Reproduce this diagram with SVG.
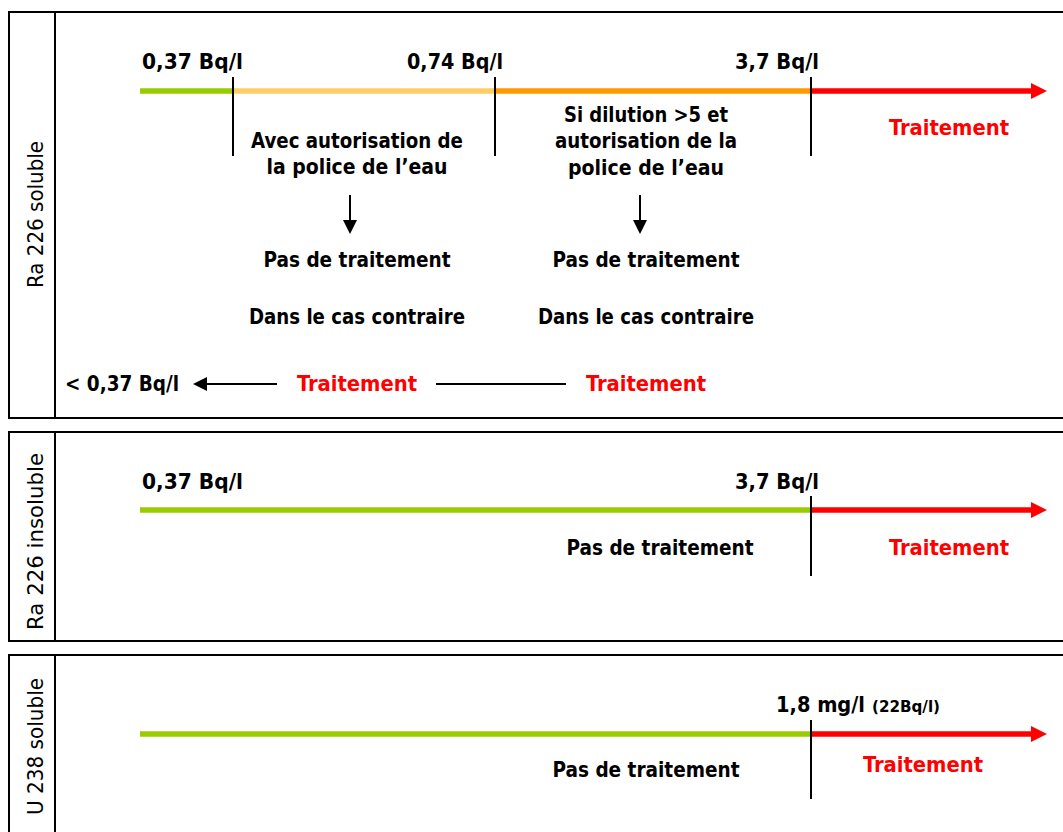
<svg xmlns="http://www.w3.org/2000/svg" width="1063" height="832" viewBox="0 0 1063 832">
<style>
  .frame{fill:none;stroke:#000;stroke-width:2}
  .div{stroke:#000;stroke-width:2}
  .tick{stroke:#000;stroke-width:2}
  .seg{stroke-width:5.5;fill:none}
  .g{stroke:#99CC00}
  .lo{stroke:#FFCC66}
  .o{stroke:#FF9900}
  .r{stroke:#FF0000}
  .t{font-family:"DejaVu Sans Condensed","DejaVu Sans",sans-serif;font-weight:bold;font-size:21px;fill:#000}
  .red{fill:#FF0000}
  .mid{text-anchor:middle}
  .lab{font-family:"DejaVu Sans",sans-serif;font-size:22px;fill:#000;text-anchor:middle}
  .small{font-family:"DejaVu Sans",sans-serif;font-weight:bold;font-size:16px;fill:#000}
  .arr{stroke:#000;stroke-width:2;fill:none}
</style>
<defs>
  <marker id="ra" markerUnits="userSpaceOnUse" markerWidth="16" markerHeight="16" refX="9" refY="8" orient="auto">
    <path d="M0,0 L16,8 L0,16 z" fill="#FF0000"/>
  </marker>
  <marker id="ba" markerUnits="userSpaceOnUse" markerWidth="14" markerHeight="14" refX="7" refY="7" orient="auto">
    <path d="M0,0 L14,7 L0,14 z" fill="#000"/>
  </marker>
</defs>
<rect width="1063" height="832" fill="#fff"/>

<g id="panel-ra226-soluble">
  <rect class="frame" x="9" y="12" width="1062" height="406"/>
  <line class="div" x1="55" y1="12" x2="55" y2="418"/>
  <text class="lab" transform="translate(43,214.5) rotate(-90)" textLength="147" lengthAdjust="spacingAndGlyphs">Ra 226 soluble</text>
  <text class="t" x="142" y="69" textLength="101" lengthAdjust="spacingAndGlyphs">0,37 Bq/l</text>
  <text class="t" x="407" y="69" textLength="96" lengthAdjust="spacingAndGlyphs">0,74 Bq/l</text>
  <text class="t" x="735" y="69" textLength="84" lengthAdjust="spacingAndGlyphs">3,7 Bq/l</text>
  <text class="t mid" x="357" y="148" textLength="212" lengthAdjust="spacingAndGlyphs">Avec autorisation de</text>
  <text class="t mid" x="357" y="174" textLength="181" lengthAdjust="spacingAndGlyphs">la police de l’eau</text>
  <text class="t mid" x="646" y="122" textLength="164" lengthAdjust="spacingAndGlyphs">Si dilution &gt;5 et</text>
  <text class="t mid" x="646" y="148" textLength="182" lengthAdjust="spacingAndGlyphs">autorisation de la</text>
  <text class="t mid" x="646" y="175" textLength="156" lengthAdjust="spacingAndGlyphs">police de l’eau</text>
  <text class="t red mid" x="949" y="135" textLength="120" lengthAdjust="spacingAndGlyphs">Traitement</text>
  <text class="t mid" x="357" y="267" textLength="187" lengthAdjust="spacingAndGlyphs">Pas de traitement</text>
  <text class="t mid" x="646" y="267" textLength="187" lengthAdjust="spacingAndGlyphs">Pas de traitement</text>
  <text class="t mid" x="357" y="324" textLength="216" lengthAdjust="spacingAndGlyphs">Dans le cas contraire</text>
  <text class="t mid" x="646" y="324" textLength="216" lengthAdjust="spacingAndGlyphs">Dans le cas contraire</text>
  <text class="t" x="65" y="391" textLength="114" lengthAdjust="spacingAndGlyphs">&lt; 0,37 Bq/l</text>
  <text class="t red mid" x="357" y="391" textLength="120" lengthAdjust="spacingAndGlyphs">Traitement</text>
  <text class="t red mid" x="646" y="391" textLength="120" lengthAdjust="spacingAndGlyphs">Traitement</text>
</g>

<g id="panel-ra226-insoluble">
  <rect class="frame" x="9" y="432" width="1062" height="209"/>
  <line class="div" x1="55" y1="432" x2="55" y2="641"/>
  <text class="lab" transform="translate(43,541.5) rotate(-90)" textLength="177" lengthAdjust="spacingAndGlyphs">Ra 226 insoluble</text>
  <text class="t" x="142" y="489" textLength="101" lengthAdjust="spacingAndGlyphs">0,37 Bq/l</text>
  <text class="t" x="735" y="489" textLength="84" lengthAdjust="spacingAndGlyphs">3,7 Bq/l</text>
  <text class="t mid" x="660" y="555" textLength="187" lengthAdjust="spacingAndGlyphs">Pas de traitement</text>
  <text class="t red mid" x="949" y="555" textLength="120" lengthAdjust="spacingAndGlyphs">Traitement</text>
</g>

<g id="panel-u238-soluble">
  <rect class="frame" x="9" y="655" width="1062" height="200"/>
  <line class="div" x1="55" y1="655" x2="55" y2="840"/>
  <text class="lab" transform="translate(43,746.5) rotate(-90)" textLength="137" lengthAdjust="spacingAndGlyphs">U 238 soluble</text>
  <text class="t" x="776" y="712" textLength="89" lengthAdjust="spacingAndGlyphs">1,8 mg/l</text>
  <text class="small" x="872" y="712" textLength="68" lengthAdjust="spacingAndGlyphs">(22Bq/l)</text>
  <text class="t mid" x="646" y="777" textLength="187" lengthAdjust="spacingAndGlyphs">Pas de traitement</text>
  <text class="t red mid" x="923" y="772" textLength="120" lengthAdjust="spacingAndGlyphs">Traitement</text>
</g>

<g id="connectors">
  <line class="seg g" x1="140" y1="91" x2="233" y2="91"/>
  <line class="seg lo" x1="233" y1="91" x2="495" y2="91"/>
  <line class="seg o" x1="495" y1="91" x2="811" y2="91"/>
  <line class="seg r" x1="811" y1="91" x2="1040" y2="91" marker-end="url(#ra)"/>
  <line class="tick" x1="233" y1="77" x2="233" y2="156"/>
  <line class="tick" x1="495" y1="77" x2="495" y2="156"/>
  <line class="tick" x1="811" y1="77" x2="811" y2="156"/>
  <line class="arr" x1="350" y1="195" x2="350" y2="227" marker-end="url(#ba)"/>
  <line class="arr" x1="640" y1="195" x2="640" y2="227" marker-end="url(#ba)"/>
  <line class="arr" x1="277" y1="384" x2="200" y2="384" marker-end="url(#ba)"/>
  <line class="arr" x1="436" y1="384" x2="566" y2="384"/>
  <line class="seg g" x1="140" y1="510" x2="811" y2="510"/>
  <line class="seg r" x1="811" y1="510" x2="1040" y2="510" marker-end="url(#ra)"/>
  <line class="tick" x1="811" y1="496" x2="811" y2="576"/>
  <line class="seg g" x1="140" y1="734" x2="811" y2="734"/>
  <line class="seg r" x1="811" y1="734" x2="1040" y2="734" marker-end="url(#ra)"/>
  <line class="tick" x1="811" y1="720" x2="811" y2="799"/>
</g>
</svg>
